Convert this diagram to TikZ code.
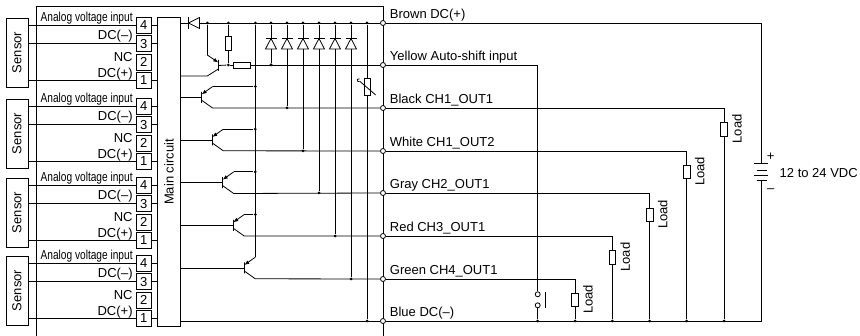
\documentclass[tikz,border=0pt]{standalone}
\usepackage{fontspec}
\setmainfont{Liberation Sans}
\usetikzlibrary{arrows.meta}
\begin{document}
\begin{tikzpicture}[x=1pt, y=-1pt, line width=.8pt, font=\fontsize{13}{15}\selectfont,
  sensorbox/.style={draw, minimum width=22pt, minimum height=69pt, inner sep=0pt},
  termbox/.style={draw, minimum width=15.5pt, minimum height=16pt, inner sep=0pt},
  mainbox/.style={draw, minimum width=23.5pt, minimum height=309pt, inner sep=0pt},
  port/.style={draw, circle, fill=white, minimum size=5pt, inner sep=0pt},
  joint/.style={circle, fill=black, minimum size=3pt, inner sep=0pt},
  res/.style={draw, fill=white, minimum width=6.5pt, minimum height=13.5pt, inner sep=0pt},
  hres/.style={draw, fill=white, minimum width=17pt, minimum height=6pt, inner sep=0pt},
  tbar/.style={draw, minimum width=0pt, minimum height=11pt, inner sep=0pt},
  emit/.style={-{Latex[length=5pt,width=4pt]}},
  pinlabel/.style={anchor=base east, inner sep=0pt},
  wirelabel/.style={anchor=base west, inner sep=0pt}]
\useasboundingbox (0,0) rectangle (860,336);
%\draw[help lines, step=50pt] (0,0) grid (860,336);
%%%%%%%%%%%%%%%%%%%%%%%%%%%%%%% case outline
\coordinate (caseA) at (36,336);
\coordinate (caseB) at (36,6.5);
\coordinate (caseC) at (383,6.5);
\coordinate (caseD) at (383,336);
\draw (caseA) -- (caseB) -- (caseC) -- (caseD);
%%%%%%%%%%%%%%%%%%%%%%%%%%%%%%% sensors and terminals
\node[mainbox] (main) at (169,172) {\rotatebox{90}{Main circuit}};
\foreach \n/\off in {1/0, 2/81, 3/160, 4/238}{
  \node[sensorbox] (s\n) at (17,52.5+\off) {\rotatebox{90}{Sensor}};
  \node[termbox] (t\n4) at (143.7,25.5+\off) {4};
  \node[termbox] (t\n3) at (143.7,43.7+\off) {3};
  \node[termbox] (t\n2) at (143.7,62+\off) {2};
  \node[termbox] (t\n1) at (143.7,80.5+\off) {1};
  \foreach \p in {4,3,1}{
    \draw (s\n.east |- t\n\p.west) -- (t\n\p.west);
    \draw (t\n\p.east) -- (main.west |- t\n\p.east);
  }
  \node[pinlabel] (la\n) at (133,21.7+\off) {\scalebox{.78}[1]{Analog voltage input}};
  \node[pinlabel] (lb\n) at (133,40+\off) {DC(--)};
  \node[pinlabel] (lc\n) at (133,61.7+\off) {NC};
  \node[pinlabel] (ld\n) at (133,77.3+\off) {DC(+)};
}
%%%%%%%%%%%%%%%%%%%%%%%%%%%%%%% output ports
\foreach \n/\y/\txt in {Brown/23/Brown DC(+), Yellow/65/Yellow Auto-shift input, Black/108/Black CH1\_OUT1,
    White/151/White CH1\_OUT2, Gray/193/Gray CH2\_OUT1, Red/236/Red CH3\_OUT1,
    Green/279/Green CH4\_OUT1, Blue/321/Blue DC(--)}{
  \node[port] (p\n) at (383,\y) {};
  \node[wirelabel] (l\n) at (389.5,\y-4.5) {\txt};
}
%%%%%%%%%%%%%%%%%%%%%%%%%%%%%%% supply rail, diodes
\foreach \n/\x in {a/207.3, b/228.3, c/255.3, d/271, e/287, f/303, g/319, h/335, i/351, k/367}{
  \node[joint] (r\n) at (\x,23) {};
}
\draw (main.east |- pBrown) -- (pBrown);
\draw (188.5,17) -- (188.5,29);
\draw[fill=white] (188.5,23) -- (199.5,17.5) -- (199.5,28.5) -- cycle;
\node[joint] (jY1) at (228.3,65) {};
\node[joint] (jY2) at (271,65) {};
\node[res] (resV) at (228.3,43.5) {};
\node[hres] (resH) at (241.7,65) {};
\draw (resV.north) -- (rb);
\draw (resV.south) -- (jY1);
\draw (jY1) -- (resH.west);
\draw (resH.east) -- (pYellow);
\foreach \n/\x/\y in {d/271/65, e/287/108, f/303/151, g/319/193, h/335/236, i/351/279}{
  \node[joint] (o\n) at (\x,\y) {};
  \draw (r\n) -- (o\n);
  \draw[fill=white] (\x-5.5,49) -- (\x+5.5,49) -- (\x,38.5) -- cycle;
  \draw (\x-5.5,38.5) -- (\x+5.5,38.5);
}
%%%%%%%%%%%%%%%%%%%%%%%%%%%%%%% transistors
\node[tbar] (t0) at (218.3,65.5) {};
\coordinate (t0u) at (207.3,55);
\coordinate (t0d) at (207.3,76);
\draw (ra) -- (t0u);
\draw[emit] (t0u) -- ([yshift=3pt]t0.center);
\draw ([yshift=-3.5pt]t0.center) -- (t0d) -- (main.east |- t0d);
\draw (t0.center) -- (jY1);
\foreach \n/\bx/\by/\p in {1/201.7/97.3/Black, 2/212.3/140/White, 3/222.7/182.7/Gray,
    4/233.3/225.3/Red, 5/244.3/268/Green}{
  \node[tbar] (t\n) at (\bx,\by) {};
  \coordinate (t\n u) at (\bx+11,\by-10.8);
  \coordinate (t\n d) at (\bx+11,\by+10.8);
  \draw (main.east |- t\n.center) -- (t\n.center);
  \draw[emit] (t\n u) -- ([yshift=3pt]t\n.center);
  \draw ([yshift=-3pt]t\n.center) -- (t\n d) -- (p\p);
}
\foreach \n in {1,2,3,4}{
  \node[joint] (v\n) at (rc |- t\n u) {};
  \draw (t\n u) -- (v\n);
}
\draw (rc) -- (t5u);
%%%%%%%%%%%%%%%%%%%%%%%%%%%%%%% varistor
\node[joint] (oBlue) at (367,321) {};
\node[draw, fill=white, minimum width=6pt, minimum height=16.5pt, inner sep=0pt] (vr) at (367,87) {};
\draw (rk) -- (vr.north);
\draw (vr.south) -- (oBlue);
\draw (360,81.5) -- (375.7,95);
\draw (359.5,78.8) arc (60:300:1.6pt);
%%%%%%%%%%%%%%%%%%%%%%%%%%%%%%% blue rail
\draw (main.east |- pBlue) -- (pBlue);
\draw (pBrown) -- (761.3,23) -- (761.3,163.7);
\coordinate (battN) at (761.3,180);
\draw (pBlue) -- (761.3,321) -- (battN);
\draw (754.3,163.7) -- (768.3,163.7);
\draw (756.7,170) -- (766.7,170);
\draw (754.3,175) -- (768.3,175);
\draw (756.7,180) -- (766.7,180);
\node (plus) at (770.7,157) {+};
\node (minus) at (770.7,191) {--};
\node[anchor=west, inner sep=0pt] (vdc) at (779.3,173) {12 to 24 VDC};
%%%%%%%%%%%%%%%%%%%%%%%%%%%%%%% loads
\foreach \n/\x/\y/\p in {a/575/300/Green, b/612.3/257.5/Red, c/649.7/215/Gray, d/686.7/172/White, e/724/129.3/Black}{
  \node[res] (load\n) at (\x,\y) {};
  \node[rotate=90] (ll\n) at (\x+13,\y-0.5) {Load};
  \node[joint] (b\n) at (\x,321) {};
  \draw (p\p) -| (load\n.north);
  \draw (load\n.south) -- (b\n);
}
%%%%%%%%%%%%%%%%%%%%%%%%%%%%%%% auto-shift switch
\node[port] (sw1) at (537.7,294.3) {};
\node[port] (sw2) at (537.7,305.3) {};
\node[joint] (bsw) at (537.7,321) {};
\draw (pYellow) -| (sw1.north);
\draw (sw2.south) -- (bsw);
\draw (545.7,292) -- (545.7,308);
\end{tikzpicture}
\end{document}
